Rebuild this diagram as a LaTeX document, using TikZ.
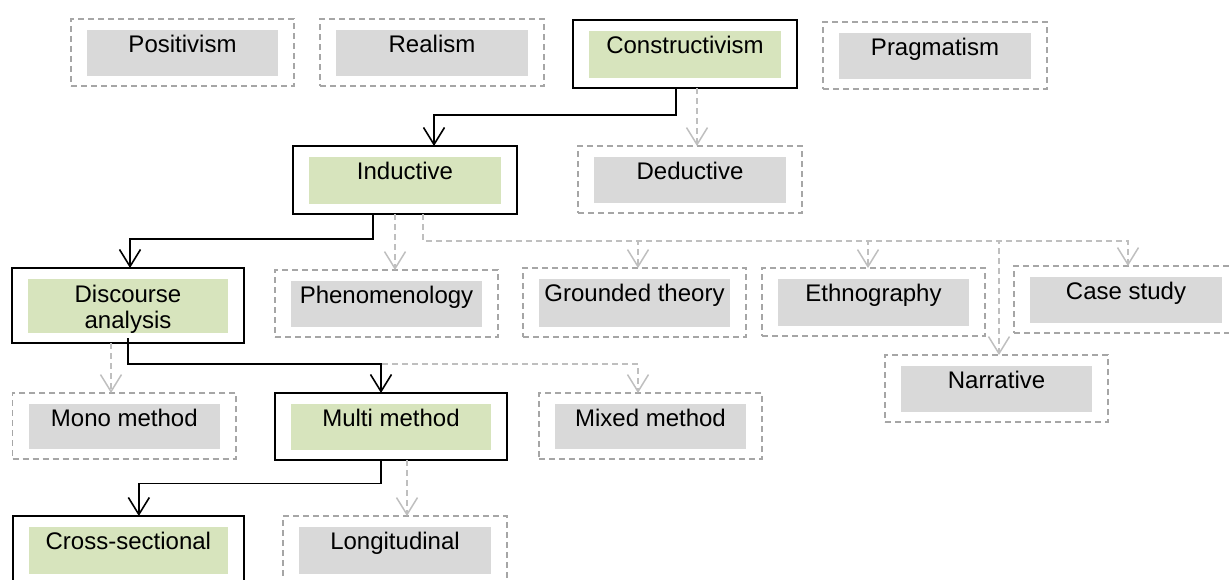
\documentclass[tikz,border=0pt]{standalone}
\usepackage{fontspec}
\setmainfont{Liberation Sans}
\usetikzlibrary{arrows.meta}
\definecolor{grn}{HTML}{D7E4BD}
\definecolor{gry}{HTML}{D9D9D9}
\definecolor{bordergray}{HTML}{A6A6A6}
\definecolor{linkgray}{HTML}{BFBFBF}
\tikzset{
 solbox/.style={draw=black, line width=2pt, inner sep=0pt, outer sep=0pt},
 dashbox/.style={draw=bordergray, line width=1.5pt, dash pattern=on 6pt off 4pt, inner sep=0pt, outer sep=0pt},
 solfill/.style={fill=grn, draw=none, inner sep=0pt, outer sep=0pt},
 dashfill/.style={fill=gry, draw=none, inner sep=0pt, outer sep=0pt},
 lbl/.style={font=\fontsize{24}{26}\selectfont, inner sep=0pt, anchor=base, align=center},
 solarrow/.style={draw=black, line width=1.6pt, -{Straight Barb[length=17pt,width=21pt]}},
 dasharrow/.style={draw=linkgray, line width=1.5pt, dash pattern=on 6pt off 4pt, -{Straight Barb[length=17pt,width=21pt]}},
}
\newcommand\entbox[8][33.5]{%
  \node[#3box, minimum width={(#6)-(#4)}, minimum height={(#7)-(#5)}] (#2) at ({((#4)+(#6))/2},{((#5)+(#7))/2}) {};
  \node[#3fill, minimum width={(#6)-(#4)-32}, minimum height={(#7)-(#5)-21}] (#2i) at (#2.center) {};
  \node[lbl] (#2t) at ({((#4)+(#6))/2},{(#5)+(#1)}) {#8};
}
\begin{document}
\begin{tikzpicture}[x=1pt,y=-1pt]
\useasboundingbox (0,0) rectangle (1229,579);
\clip (0,0) rectangle (1229,579);
\entbox{pos}{dash}{71}{19}{294}{86}{Positivism}
\entbox{rea}{dash}{320}{19}{544}{86}{Realism}
\entbox{con}{sol}{573}{20}{797}{88}{Constructivism}
\entbox{pra}{dash}{823}{22}{1047}{89}{Pragmatism}
\entbox{ind}{sol}{293}{146}{517}{214}{Inductive}
\entbox{ded}{dash}{578}{146}{802}{213}{Deductive}
\entbox[60]{dis}{sol}{12}{268}{244}{343}{Discourse\\analysis}
\entbox{phe}{dash}{275}{270}{498}{337}{Phenomenology}
\entbox{gro}{dash}{523}{268}{746}{337}{Grounded theory}
\entbox{eth}{dash}{762}{268}{985}{336}{Ethnography}
\entbox{cas}{dash}{1014}{266}{1238}{333}{Case study}
\entbox{nar}{dash}{885}{355}{1108}{422}{Narrative}
\entbox{mon}{dash}{12.6}{393}{236}{459}{Mono method}
\entbox{mul}{sol}{275}{393}{507}{460}{Multi method}
\entbox{mix}{dash}{539}{393}{762}{459}{Mixed method}
\entbox{cro}{sol}{12.7}{516}{244}{584}{Cross-sectional}
\entbox{lon}{dash}{283}{516}{507}{584}{Longitudinal}
% connectors
\draw[dasharrow] ([xshift=12pt]con.south) -- ([xshift=12pt]con.south |- ded.north);
\draw[solarrow] ([xshift=-9pt]con.south) -- ++(0,27) -| ([xshift=29pt]ind.north);
\draw[dasharrow] ([xshift=-10pt]ind.south) -- ([xshift=-10pt]ind.south |- phe.north);
\foreach \t/\s in {gro/3.5, eth/-5.5, nar/2.5, cas/2}
  \draw[dasharrow] ([xshift=18pt]ind.south) -- ++(0,27) -| ([xshift=\s pt]\t.north);
\draw[solarrow] ([xshift=-32pt]ind.south) -- ++(0,25) -| ([xshift=2pt]dis.north);
\draw[dasharrow] ([xshift=-17pt]dis.south) -- ([xshift=-17pt]dis.south |- mon.north);
\draw[dasharrow] ([yshift=5pt]dis.south) -- ++(0,26) -| ([xshift=-12.5pt]mix.north);
\draw[solarrow] ([yshift=5pt]dis.south) -- ++(0,26) -| ([xshift=-10pt]mul.north);
\draw[dasharrow] ([xshift=16pt]mul.south) -- ([xshift=16pt]mul.south |- lon.north);
\draw[solarrow] ([xshift=-10pt]mul.south) -- ++(0,23.5) -| ([xshift=10.5pt]cro.north);
\end{tikzpicture}
\end{document}
